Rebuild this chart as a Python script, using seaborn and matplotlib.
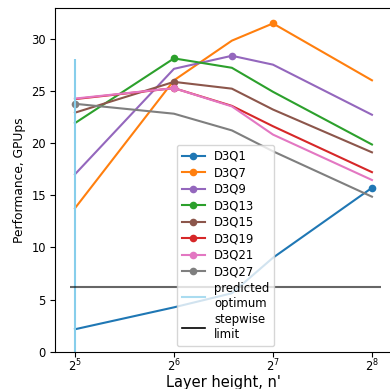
import numpy as np
import seaborn as sns
import matplotlib.pyplot as plt
from matplotlib.lines import Line2D
from matplotlib.ticker import NullLocator

# layer heights n'
layer_height = [32, 64, 96, 128, 256]

# performance, GPUps
d3q1 = [2.15, 4.25, 5.6, 9.0, 15.7]
d3q7 = [13.75, 26.0, 29.8, 31.45, 26.0]
d3q9 = [17.0, 27.1, 28.35, 27.5, 22.7]
d3q13 = [21.9, 28.1, 27.2, 24.9, 19.85]
d3q15 = [22.9, 25.85, 25.2, 23.2, 19.1]
d3q19 = [24.2, 25.25, 23.55, 21.6, 17.2]
d3q21 = [24.25, 25.25, 23.5, 20.8, 16.45]
d3q27 = [23.75, 22.8, 21.2, 19.2, 14.85]

series_names = ['D3Q1', 'D3Q7', 'D3Q9', 'D3Q13', 'D3Q15', 'D3Q19', 'D3Q21', 'D3Q27']
series_values = [d3q1, d3q7, d3q9, d3q13, d3q15, d3q19, d3q21, d3q27]
series_colors = ['C0', 'C1', 'C4', 'C2', 'C5', 'C3', 'C6', 'C7']

predicted_optimum = 32
predicted_top = 28
stepwise_limit = 6.2

fig = plt.figure(figsize=(3.9, 3.89), dpi=100)
ax = fig.add_axes([0.141, 0.0959, 0.864, 0.8828])

for name, vals, color in zip(series_names, series_values, series_colors):
    # marker only on the best layer height
    best = int(np.argmax(vals))
    sns.lineplot(x=layer_height, y=vals, ax=ax, color=color, marker='o',
                 markevery=[best], markersize=5.5, markeredgewidth=0, label=name)

ax.vlines(predicted_optimum, 0, predicted_top, color='skyblue', lw=1.5)
ax.hlines(stepwise_limit, 31, 272, color='k', alpha=0.6, lw=1.5)

ax.set_xscale('log', base=2)
ax.xaxis.set_minor_locator(NullLocator())
ax.set_xticks([32, 64, 128, 256])
ax.set_xticklabels(['$2^{5}$', '$2^{6}$', '$2^{7}$', '$2^{8}$'])
ax.set_xlim(2 ** 4.798, 2 ** 8.202)
ax.set_ylim(0, 32.9)
ax.set_yticks([0, 5, 10, 15, 20, 25, 30])
ax.tick_params(labelsize=8.3)
ax.tick_params(axis='x', pad=0.5)
ax.tick_params(axis='y', pad=3)
ax.set_xlabel("Layer height, n'", fontsize=10.5, labelpad=0.5)
ax.set_ylabel('Performance, GPUps', fontsize=8.8)

handles, labels = ax.get_legend_handles_labels()
handles += [Line2D([], [], color='skyblue', alpha=0.7, lw=1.5),
            Line2D([], [], color='k', lw=1.2)]
labels += ['predicted\noptimum', 'stepwise\nlimit']
ax.legend(handles, labels, loc='lower center', bbox_to_anchor=(0.506, 0),
          fontsize=8.4, labelspacing=0.3)

fig.savefig('out.png', dpi=100)
